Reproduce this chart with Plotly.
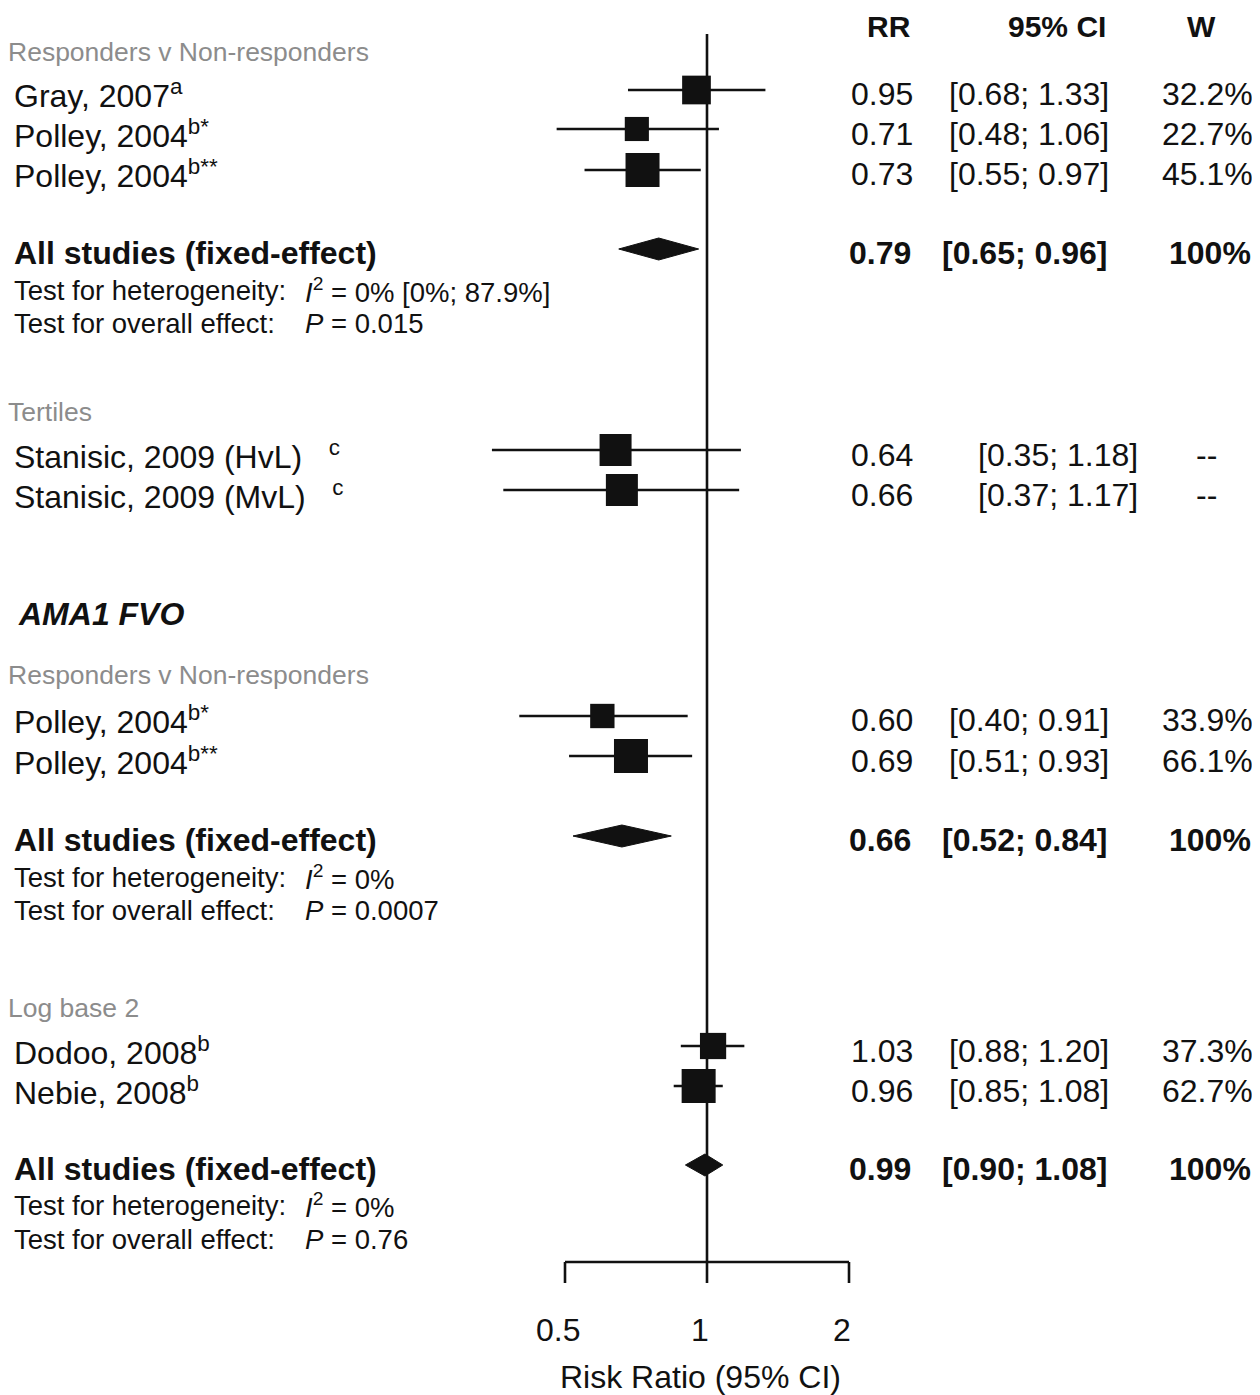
import numpy as np
import plotly.graph_objects as go

# ---------------- data ----------------
study_labels = [
    "Gray, 2007<sup>a</sup>",
    "Polley, 2004<sup>b*</sup>",
    "Polley, 2004<sup>b**</sup>",
    "Stanisic, 2009 (HvL)\u00a0\u00a0\u00a0<sup>c</sup>",
    "Stanisic, 2009 (MvL)\u00a0\u00a0\u00a0<sup>c</sup>",
    "Polley, 2004<sup>b*</sup>",
    "Polley, 2004<sup>b**</sup>",
    "Dodoo, 2008<sup>b</sup>",
    "Nebie, 2008<sup>b</sup>",
]
study_rr = [0.95, 0.71, 0.73, 0.64, 0.66, 0.60, 0.69, 1.03, 0.96]
study_lo = [0.68, 0.48, 0.55, 0.35, 0.37, 0.40, 0.51, 0.88, 0.85]
study_hi = [1.33, 1.06, 0.97, 1.18, 1.17, 0.91, 0.93, 1.20, 1.08]
study_weight = [32.2, 22.7, 45.1, None, None, 33.9, 66.1, 37.3, 62.7]
study_group = [0, 0, 0, None, None, 1, 1, 2, 2]

pooled_rr = [0.79, 0.66, 0.99]
pooled_lo = [0.65, 0.52, 0.90]
pooled_hi = [0.96, 0.84, 1.08]
pooled_label = "All studies (fixed-effect)"
het_values = ["<i>I</i><sup>2</sup> = 0% [0%; 87.9%]",
              "<i>I</i><sup>2</sup> = 0%",
              "<i>I</i><sup>2</sup> = 0%"]
p_values = ["0.015", "0.0007", "0.76"]

subgroup_labels = ["Responders v Non-responders", "Tertiles",
                   "Responders v Non-responders", "Log base 2"]
section_label = "AMA1 FVO"
column_headers = ["RR", "95% CI", "W"]
x_ticks = [0.5, 1, 2]
x_tick_text = ["0.5", "1", "2"]
x_title = "Risk Ratio (95% CI)"

# ---------------- layout (pixel positions, reference coordinates) ----------------
W, H = 1260, 1395
OFF = 8                      # page body margin in the viewer
FW, FH = W - OFF, H - OFF    # figure size so that it fits the window exactly
PX_PER_DOUBLING = 142.0
REF_PX = 707.0
k = PX_PER_DOUBLING / np.log10(2)
r0 = (OFF - REF_PX) / k
r1 = (W - REF_PX) / k

study_y = [90, 129, 170, 450, 490, 716, 756, 1046, 1086]
study_text_y = [94, 134, 174, 455, 495, 720, 761, 1051, 1091]
pooled_y = [249, 836, 1165]
pooled_text_y = [253, 840, 1169]
het_y = [290, 877, 1205]
p_y = [323, 910, 1239]
subgroup_y = [52, 412, 675, 1008]
section_y = 614
header_y = 26
axis_y = 1262
tick_bottom = 1283
tick_label_y = 1330
title_y = 1377
ref_top = 34

PAD = 3                      # annotation box inset
LEFT_X = 15
VAL_X = 306
RR_RIGHT = 912
CI_RIGHT = 1108
W_RIGHT = 1252
CI_RIGHT_NOWEIGHT = 1137
W_CENTER_NOWEIGHT = 1206

FONT = "Liberation Sans, Arial, sans-serif"
INK = "#111111"
GREY = "#8c8c8c"
LW = 2.6

fig = go.Figure()

# CI whiskers
wx, wy = [], []
for lo, hi, y in zip(study_lo, study_hi, study_y):
    wx += [lo, hi, None]
    wy += [y, y, None]
fig.add_trace(go.Scatter(x=wx, y=wy, mode="lines",
                         line=dict(color=INK, width=LW),
                         hoverinfo="skip", showlegend=False))

# axis line, ticks and the reference line at 1
ax_x = [x_ticks[0], x_ticks[-1], None]
ax_y = [axis_y, axis_y, None]
for t in x_ticks:
    top = ref_top if t == 1 else axis_y
    ax_x += [t, t, None]
    ax_y += [top, tick_bottom, None]
fig.add_trace(go.Scatter(x=ax_x, y=ax_y, mode="lines",
                         line=dict(color=INK, width=LW),
                         hoverinfo="skip", showlegend=False))

# boxes sized by weight within group
sizes = []
for w, g in zip(study_weight, study_group):
    if w is None:
        sizes.append(32)
    else:
        gmax = max(ww for ww, gg in zip(study_weight, study_group) if gg == g)
        sizes.append(34 * np.sqrt(w / gmax))
fig.add_trace(go.Scatter(x=study_rr, y=study_y, mode="markers", opacity=1,
                         marker=dict(symbol="square", size=sizes, color=INK,
                                     opacity=1, line=dict(width=0)),
                         hoverinfo="skip", showlegend=False))

# diamonds
DH = 11
for est, lo, hi, y in zip(pooled_rr, pooled_lo, pooled_hi, pooled_y):
    fig.add_trace(go.Scatter(x=[lo, est, hi, est, lo], y=[y, y - DH, y, y + DH, y],
                             mode="lines", fill="toself", fillcolor=INK,
                             line=dict(color=INK, width=1),
                             hoverinfo="skip", showlegend=False))

ann = []


def txt(xpx, y, text, anchor="left", size=32, color=INK):
    if anchor == "left":
        xpx -= PAD
    elif anchor == "right":
        xpx += PAD
    ann.append(dict(x=(xpx - OFF) / FW, xref="paper", y=y, yref="y", text=text,
                    showarrow=False, xanchor=anchor, yanchor="middle",
                    font=dict(family=FONT, size=size, color=color)))


# headers
txt(RR_RIGHT - 2, header_y, "<b>" + column_headers[0] + "</b>", "right", 30)
txt(CI_RIGHT - 3, header_y, "<b>" + column_headers[1] + "</b>", "right", 30)
txt(1201, header_y, "<b>" + column_headers[2] + "</b>", "center", 30)

# subgroup labels
for lab, y in zip(subgroup_labels, subgroup_y):
    txt(9, y, lab, "left", 26.5, GREY)
txt(19, section_y, "<b><i>" + section_label + "</i></b>", "left", 32)

# studies
for lab, rr, lo, hi, w, y in zip(study_labels, study_rr, study_lo, study_hi,
                                 study_weight, study_text_y):
    txt(LEFT_X, y, lab, "left", 32)
    txt(RR_RIGHT, y, f"{rr:.2f}", "right", 32)
    if w is None:
        txt(CI_RIGHT_NOWEIGHT, y, f"[{lo:.2f}; {hi:.2f}]", "right", 32)
        txt(W_CENTER_NOWEIGHT, y, "--", "center", 32)
    else:
        txt(CI_RIGHT, y, f"[{lo:.2f}; {hi:.2f}]", "right", 32)
        txt(W_RIGHT, y, f"{w:.1f}%", "right", 32)

# pooled
for est, lo, hi, y, hv, pv, hy, py in zip(pooled_rr, pooled_lo, pooled_hi,
                                          pooled_text_y, het_values, p_values,
                                          het_y, p_y):
    txt(LEFT_X, y, "<b>" + pooled_label + "</b>", "left", 32)
    txt(RR_RIGHT - 2, y, f"<b>{est:.2f}</b>", "right", 32)
    txt(CI_RIGHT - 2, y, f"<b>[{lo:.2f}; {hi:.2f}]</b>", "right", 32)
    txt(W_RIGHT - 2, y, "<b>100%</b>", "right", 32)
    txt(LEFT_X, hy, "Test for heterogeneity:", "left", 27.5)
    txt(VAL_X, hy, hv, "left", 27.5)
    txt(LEFT_X, py, "Test for overall effect:", "left", 27.5)
    txt(VAL_X, py, "<i>P</i> = " + pv, "left", 27.5)

# tick labels placed through the x scale
for t, lab in zip(x_ticks, x_tick_text):
    ann.append(dict(x=np.log10(t), xref="x", y=tick_label_y, yref="y", text=lab,
                    showarrow=False, xanchor="center", yanchor="middle", xshift=-7,
                    font=dict(family=FONT, size=32, color=INK)))

# axis title
txt(700, title_y, x_title, "center", 32)

fig.update_layout(
    width=FW, height=FH,
    margin=dict(l=0, r=0, t=0, b=0, autoexpand=False),
    paper_bgcolor="white", plot_bgcolor="white",
    xaxis=dict(type="log", range=[r0, r1], visible=False, domain=[0, 1],
               fixedrange=True),
    yaxis=dict(range=[H, OFF], visible=False, domain=[0, 1], fixedrange=True),
    annotations=ann,
    showlegend=False,
)

fig.write_html("out.html", config={"displayModeBar": False})
